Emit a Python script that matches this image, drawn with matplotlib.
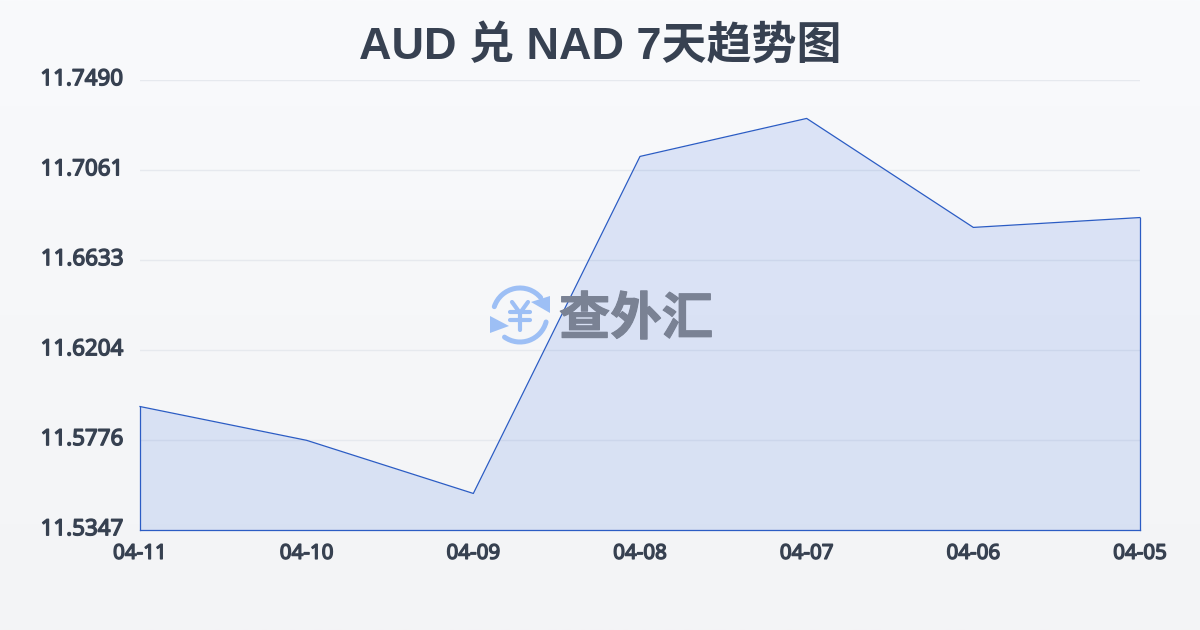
import numpy as np
import matplotlib
matplotlib.use("Agg")
import matplotlib.pyplot as plt
import matplotlib.patheffects as pe
from matplotlib.patches import Arc, Polygon

dates = ["04-11", "04-10", "04-09", "04-08", "04-07", "04-06", "04-05"]
rates = [11.5935, 11.5774, 11.5521, 11.7126, 11.7307, 11.6788, 11.6835]
y_ticks = [11.5347, 11.5776, 11.6204, 11.6633, 11.7061, 11.7490]
y_labels = ["11.5347", "11.5776", "11.6204", "11.6633", "11.7061", "11.7490"]

W, H = 1200, 630
LINE = "#2b5cc4"
DARK = "#374151"
title_font = ["Liberation Sans", "Noto Sans CJK SC"]

fig = plt.figure(figsize=(12, 6.3), dpi=100)

# background gradient
bg = fig.add_axes([0, 0, 1, 1], zorder=0)
bg.imshow(np.linspace(0, 1, 256).reshape(-1, 1), aspect="auto",
          cmap=matplotlib.colors.LinearSegmentedColormap.from_list("bg", ["#f9fafc", "#f3f4f6"]))
bg.axis("off")

# main chart
ax = fig.add_axes([140 / W, 1 - 530 / H, 1000 / W, 450 / H], zorder=1)
ax.patch.set_alpha(0)
x = np.arange(len(dates))
ax.fill_between(x, rates, y_ticks[0], color="#3b6fe0", alpha=0.15, linewidth=0, zorder=2)
ax.plot(x, rates, color=LINE, lw=0.9, zorder=3, clip_on=False)
ax.plot([0, 0], [y_ticks[0], rates[0]], color=LINE, lw=0.9, zorder=3, clip_on=False)
ax.plot([x[-1], x[-1]], [y_ticks[0], rates[-1]], color=LINE, lw=0.9, zorder=3, clip_on=False)
ax.plot([0, x[-1]], [y_ticks[0], y_ticks[0]], color=LINE, lw=0.9, zorder=3, clip_on=False)

ax.set_xlim(0, len(dates) - 1)
ax.set_ylim(y_ticks[0], y_ticks[-1])
ax.set_yticks(y_ticks)
ax.set_yticklabels(y_labels, family="Noto Sans", fontsize=16.1, color=DARK)
ax.set_xticks(x)
ax.set_xticklabels(dates, family="Noto Sans", fontsize=14.8, color=DARK)
ax.tick_params(axis="both", length=0)
ax.tick_params(axis="y", pad=12)
ax.tick_params(axis="x", pad=10)
ax.grid(axis="y", color="#e6e9ee", lw=1, zorder=1)
ax.grid(axis="x", visible=False)
for s in ax.spines.values():
    s.set_visible(False)

# the installed Noto Sans only has the regular weight, thicken it with a stroke
bold = [pe.withStroke(linewidth=1.0, foreground=DARK)]
for lab in ax.get_xticklabels() + ax.get_yticklabels():
    lab.set_path_effects(bold)
for lab in ax.get_yticklabels():
    lab.set_transform(lab.get_transform() + matplotlib.transforms.ScaledTranslation(0, 2 / 72, fig.dpi_scale_trans))

fig.text(0.5, 1 - 46 / H, "AUD 兑 NAD 7天趋势图", ha="center", va="center",
         family=title_font, fontweight="bold", fontsize=32.4, color=DARK, zorder=5)

# watermark, in pixel coordinates
wm = fig.add_axes([0, 0, 1, 1], zorder=4)
wm.set_xlim(0, W)
wm.set_ylim(H, 0)
wm.axis("off")
ICON = "#9dbff5"
cx, cy = 520, 315
wm.add_patch(Arc((cx, cy), 54, 54, theta1=198, theta2=320, color=ICON, lw=3.6, capstyle="round"))
wm.add_patch(Arc((cx, cy), 54, 54, theta1=15, theta2=125, color=ICON, lw=3.6, capstyle="round"))
wm.add_patch(Polygon([[550, 296], [550, 313], [531, 302]], color=ICON, lw=0))
wm.add_patch(Polygon([[490, 316], [490, 333], [509, 326]], color=ICON, lw=0))
# yen sign
for xs, ys in [([512, 520, 528], [302, 313, 302]), ([510, 530], [312, 312]),
               ([510, 530], [320, 320]), ([520, 520], [313, 330])]:
    wm.plot(xs, ys, color=ICON, lw=3, solid_capstyle="round", solid_joinstyle="round")
wm.text(636, 319, "查外汇", ha="center", va="center", family="Noto Sans CJK SC",
        fontweight="black", fontsize=37, color="#7a8294",
        path_effects=[pe.withStroke(linewidth=0.8, foreground="#7a8294")])

fig.savefig("out.png", dpi=100)
